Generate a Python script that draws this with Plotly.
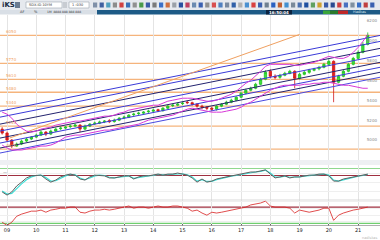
import pandas as pd
import plotly.graph_objects as go

# ---------------- data ----------------
dates = pd.date_range("2008-11-01", periods=76, freq="2MS")

opens = [5110,5070,5000,4940,4960,4990,5010,5030,5050,5080,
         5060,5090,5115,5120,5135,5140,5150,5110,5140,5165,
         5170,5185,5195,5185,5200,5225,5230,5255,5265,5270,
         5285,5290,5305,5295,5320,5345,5350,5365,5380,5375,
         5360,5340,5330,5320,5310,5340,5360,5380,5400,5430,
         5470,5500,5520,5560,5610,5690,5640,5630,5650,5670,
         5690,5620,5660,5680,5700,5715,5730,5760,5790,5580,
         5640,5690,5760,5820,5880,5960]
closes = [5070,5000,4940,4960,4990,5010,5030,5050,5080,5060,
          5090,5110,5120,5130,5140,5150,5110,5140,5160,5170,
          5180,5190,5185,5200,5220,5230,5250,5260,5270,5280,
          5290,5300,5295,5320,5340,5350,5360,5370,5375,5360,
          5340,5330,5320,5310,5340,5360,5380,5400,5430,5470,
          5500,5520,5560,5610,5680,5640,5630,5650,5670,5690,
          5620,5660,5680,5700,5710,5730,5760,5790,5580,5640,
          5690,5760,5820,5880,5960,6050]
highs = [5130,5085,5010,4975,5005,5025,5040,5065,5095,5090,
         5105,5125,5135,5140,5155,5165,5160,5155,5170,5185,
         5195,5200,5210,5215,5230,5245,5260,5275,5285,5290,
         5305,5315,5315,5330,5355,5365,5375,5385,5395,5385,
         5370,5355,5340,5335,5350,5370,5395,5415,5440,5485,
         5515,5535,5575,5625,5700,5710,5660,5665,5685,5705,
         5700,5675,5695,5715,5725,5745,5775,5810,5800,5655,
         5705,5775,5835,5900,5985,6080]
lows = [5055,4985,4920,4930,4950,4980,5000,5020,5040,5040,
        5050,5080,5100,5110,5120,5130,5080,5100,5130,5150,
        5160,5170,5170,5175,5190,5210,5220,5240,5250,5260,
        5270,5280,5280,5285,5310,5330,5340,5350,5360,5345,
        5325,5310,5300,5290,5295,5330,5350,5370,5390,5420,
        5460,5490,5510,5550,5600,5620,5610,5615,5640,5660,
        5520,5605,5650,5665,5690,5700,5720,5750,5380,5570,
        5630,5680,5750,5810,5870,5950]

upper_band = [5280,5260,5220,5160,5120,5090,5080,5090,5110,5120,
              5130,5150,5160,5170,5180,5190,5190,5200,5210,5220,
              5230,5240,5240,5250,5270,5280,5300,5310,5320,5330,
              5340,5350,5350,5370,5390,5400,5410,5420,5420,5420,
              5410,5400,5390,5390,5400,5420,5440,5460,5490,5530,
              5570,5600,5640,5690,5740,5760,5760,5760,5760,5760,
              5750,5750,5760,5770,5780,5800,5820,5840,5830,5820,
              5820,5840,5880,5930,5990,6060]
lower_band = [4950,4920,4900,4900,4900,4910,4920,4930,4940,4940,
              4950,4970,5000,5030,5040,5050,5050,5060,5070,5080,
              5090,5100,5100,5110,5120,5130,5140,5150,5160,5180,
              5200,5210,5220,5230,5240,5250,5270,5290,5310,5320,
              5310,5300,5290,5280,5280,5280,5290,5300,5310,5330,
              5360,5380,5410,5440,5470,5500,5520,5540,5550,5550,
              5550,5550,5560,5560,5570,5570,5580,5580,5570,5560,
              5550,5550,5540,5530,5520,5520]

fib_levels = [6050, 5770, 5610, 5480, 5340, 5140, 4910]

chan_x = ["2008-10-05", "2021-10-01"]
chan_left = [5290, 5230, 5160, 5090, 5020, 4970, 4920, 4870]
chan_right = [6050, 5990, 5920, 5850, 5780, 5730, 5680, 5630]
chan_colors = ["#3a3ad8", "#3a3ad8", "#23236e", "#3a3ad8", "#23236e", "#3a3ad8", "#23236e", "#4a4ae0"]

diag_x = ["2009-02-01", "2019-01-01"]
diag_y = [5020, 6060]

osc_k = [23,14,23,40,51,63,69,71,71,60, 51,57,66,71,74,71,60,57,66,71,
         71,69,63,63,66,69,69,60,66,69, 69,71,74,71,74,74,77,74,71,63,
         51,60,51,54,60,63,66,69,71,74, 77,80,80,83,86,74,63,66,69,63,
         66,66,69,71,71,74,74,69,54,54, 60,63,66,69,71,74]
osc_d = [26,17,19,33,46,58,66,70,71,64, 54,55,63,69,73,72,63,58,63,69,
         71,70,65,63,65,68,69,62,65,68, 69,70,73,72,73,74,76,75,72,66,
         54,58,53,53,58,62,65,68,70,73, 76,79,80,82,85,77,66,65,68,65,
         65,66,68,70,71,73,74,71,57,54, 58,62,65,68,70,73]
osc_levels = [90, 70]

rsi = [24,12,24,46,54,61,65,65,69,61, 69,72,76,76,80,80,61,58,65,69,
       69,72,69,72,76,80,84,76,80,80, 76,80,84,80,80,84,84,80,76,65,
       69,58,50,61,58,61,65,69,72,76, 80,88,91,95,102,84,80,80,80,76,
       58,69,65,61,65,69,76,76,31,50, 58,65,69,72,76,80]
rsi_levels = [80, 20]

clock_text = "16:50:04"

# ---------------- figure ----------------
W, H = 380, 240
fig = go.Figure()

def px_rect(x0, y0, x1, y1, fill, line=None, lw=0.6):
    fig.add_shape(type="rect", xref="paper", yref="paper",
                  x0=x0 / W, x1=x1 / W, y0=1 - y1 / H, y1=1 - y0 / H,
                  fillcolor=fill, line=dict(color=line or fill, width=lw if line else 0),
                  layer="above")

def px_text(x, y, text, size=5, color="#222", bold=False, anchor="left"):
    fig.add_annotation(xref="paper", yref="paper", x=x / W, y=1 - y / H, text=("<b>%s</b>" % text) if bold else text,
                       showarrow=False, xanchor=anchor, yanchor="middle",
                       font=dict(size=size, color=color, family="DejaVu Sans"))

# channel lines
for lft, rgt, col in zip(chan_left, chan_right, chan_colors):
    fig.add_trace(go.Scatter(x=chan_x, y=[lft, rgt], mode="lines", line=dict(color=col, width=1),
                             xaxis="x", yaxis="y", hoverinfo="skip"))
# orange diagonal
fig.add_trace(go.Scatter(x=diag_x, y=diag_y, mode="lines", line=dict(color="#f0a060", width=1),
                         xaxis="x", yaxis="y", hoverinfo="skip"))
# bands
fig.add_trace(go.Scatter(x=dates, y=upper_band, mode="lines", line=dict(color="#d838d8", width=1),
                         xaxis="x", yaxis="y"))
fig.add_trace(go.Scatter(x=dates, y=lower_band, mode="lines", line=dict(color="#d838d8", width=1),
                         xaxis="x", yaxis="y"))
# candles
fig.add_trace(go.Candlestick(x=dates, open=opens, high=highs, low=lows, close=closes,
                             increasing=dict(line=dict(color="#20c020", width=0.8), fillcolor="#3ee03e"),
                             decreasing=dict(line=dict(color="#d01818", width=0.8), fillcolor="#e02020"),
                             whiskerwidth=0, xaxis="x", yaxis="y"))

# oscillator 1
fig.add_trace(go.Scatter(x=dates, y=osc_d, mode="lines", line=dict(color="#3fe0d8", width=1.2),
                         xaxis="x2", yaxis="y2"))
fig.add_trace(go.Scatter(x=dates, y=osc_k, mode="lines", line=dict(color="#606060", width=1),
                         xaxis="x2", yaxis="y2"))
# oscillator 2
fig.add_trace(go.Scatter(x=dates, y=rsi, mode="lines", line=dict(color="#d82020", width=0.8),
                         xaxis="x3", yaxis="y3"))

# horizontal levels
for lv in fib_levels:
    fig.add_shape(type="line", xref="paper", yref="y", x0=0, x1=1, y0=lv, y1=lv,
                  line=dict(color="#f5b47c", width=1.3), layer="below")
    fig.add_annotation(xref="paper", yref="y", x=0.01, y=lv, text=str(lv), showarrow=False,
                       xanchor="left", yanchor="bottom", yshift=-1,
                       font=dict(size=4, color="#f0a060", family="DejaVu Sans"))
for lv, col in zip(osc_levels, ["#8fd88f", "#a03040"]):
    fig.add_shape(type="line", xref="paper", yref="y2", x0=0, x1=1, y0=lv, y1=lv,
                  line=dict(color=col, width=1.2), layer="below")
for lv, col in zip(rsi_levels, ["#a03040", "#6fcf6f"]):
    fig.add_shape(type="line", xref="paper", yref="y3", x0=0, x1=1, y0=lv, y1=lv,
                  line=dict(color=col, width=1.2), layer="below")

# separators / frame
px_rect(0, 160, 380, 165, "#eef0f3")
fig.add_shape(type="line", xref="paper", yref="paper", x0=0, x1=1, y0=1 - 200 / H, y1=1 - 200 / H,
              line=dict(color="#cfcfcf", width=0.8))
fig.add_shape(type="line", xref="paper", yref="paper", x0=0, x1=1, y0=1 - 225.5 / H, y1=1 - 225.5 / H,
              line=dict(color="#9a9a9a", width=0.8))
px_text(1, 172, "—", size=4, color="#555")

# toolbar row 1
px_rect(0, 0, 380, 10, "#e6e9ee")
px_text(0, 5, "iKS", size=7, color="#1a2a40", bold=True)
px_rect(15, 2, 20, 8, "#6a7a90")
px_rect(26, 2, 62, 8, "#ffffff", line="#9aa4b0")
px_text(27, 5, "SDX-ID-10YM", size=3.5, color="#333")
px_rect(63, 2, 67, 8, "#c8ccd2")
px_rect(69, 2, 89, 8, "#ffffff", line="#9aa4b0")
px_text(70, 5, "1 :030", size=3.5, color="#333")
icon_colors = ["#8090a8", "#4060a0", "#50a0c0", "#8c8c8c", "#d04040", "#3870b8", "#909090", "#4a9a4a",
               "#3b5ca8", "#7a7a7a", "#3a70c8", "#d07040", "#9aa0a8", "#2a50a0", "#c04060", "#6a8ab0",
               "#3a60b0", "#909090", "#d85050", "#5080c0", "#7a8aa0", "#3060a8", "#b0b0b0", "#4a90d0",
               "#d84040", "#3a60b0", "#708090", "#2a60c0", "#c06030", "#4090d0", "#7a8a9a", "#4a70b0",
               "#2050a0", "#60a060", "#d0a030", "#3a5aa8", "#2a4a90", "#d04040", "#4a70c0", "#8090a0",
               "#3a70c8", "#c04040", "#3a60b0"]
for k, col in enumerate(icon_colors):
    xx = 93 + k * 6.6
    px_rect(xx, 2.5, xx + 4.2, 7.5, col)

# toolbar row 2
px_rect(0, 10, 97, 14.5, "#d9dfe6")
px_text(18, 12.2, "AF", size=3.5, color="#333")
px_text(32, 12.2, "%", size=3.5, color="#333")
px_text(45, 12.2, "1M  8888 888 888 888", size=3, color="#333")
px_rect(97, 10, 380, 14.5, "#1d5a86")
px_rect(266, 10, 292, 14.5, "#0c2440")
px_text(279, 12.3, clock_text, size=4, color="#ffffff", bold=True, anchor="center")
px_rect(323, 10.5, 330, 14, "#3aa53a")
px_rect(330, 10.5, 338, 14, "#2b7a2b")
px_rect(338, 10.5, 348, 14, "#c02828")
px_text(351, 12.3, "Hadkas", size=3.5, color="#d8e4f0")

px_text(379, 237.5, "nadlskas", size=3.5, color="#b8b8b8", anchor="right")

xcommon = dict(range=["2008-10-05", "2021-10-01"], showgrid=True, gridcolor="#e4e4e4", gridwidth=1,
               dtick="M12", tick0="2009-01-01", zeroline=False, showline=False)
fig.update_layout(
    width=W, height=H, margin=dict(l=0, r=0, t=0, b=0),
    paper_bgcolor="white", plot_bgcolor="white", showlegend=False,
    font=dict(family="DejaVu Sans", size=5),
    xaxis=dict(domain=[0, 1], anchor="y", showticklabels=False, rangeslider=dict(visible=False), **xcommon),
    xaxis2=dict(domain=[0, 1], anchor="y2", matches="x", showticklabels=False, **xcommon),
    xaxis3=dict(domain=[0, 1], anchor="y3", matches="x", showticklabels=True, tickformat="%y",
                ticks="inside", ticklen=2, tickcolor="#666", tickfont=dict(size=5, color="#222"), **xcommon),
    yaxis=dict(domain=[1 - 160 / H, 1 - 14.5 / H], range=[4800, 6260], side="right", showgrid=False,
               zeroline=False, ticklabelposition="inside", dtick=200,
               tickfont=dict(size=4, color="#888")),
    yaxis2=dict(domain=[1 - 200 / H, 1 - 165 / H], range=[0, 100], showticklabels=False,
                showgrid=True, gridcolor="#efefef", dtick=25, zeroline=False),
    yaxis3=dict(domain=[1 - 225.5 / H, 1 - 200 / H], range=[11.9, 106.25], showticklabels=False,
                showgrid=True, gridcolor="#efefef", dtick=25, zeroline=False),
)

fig.write_html("out.html")
